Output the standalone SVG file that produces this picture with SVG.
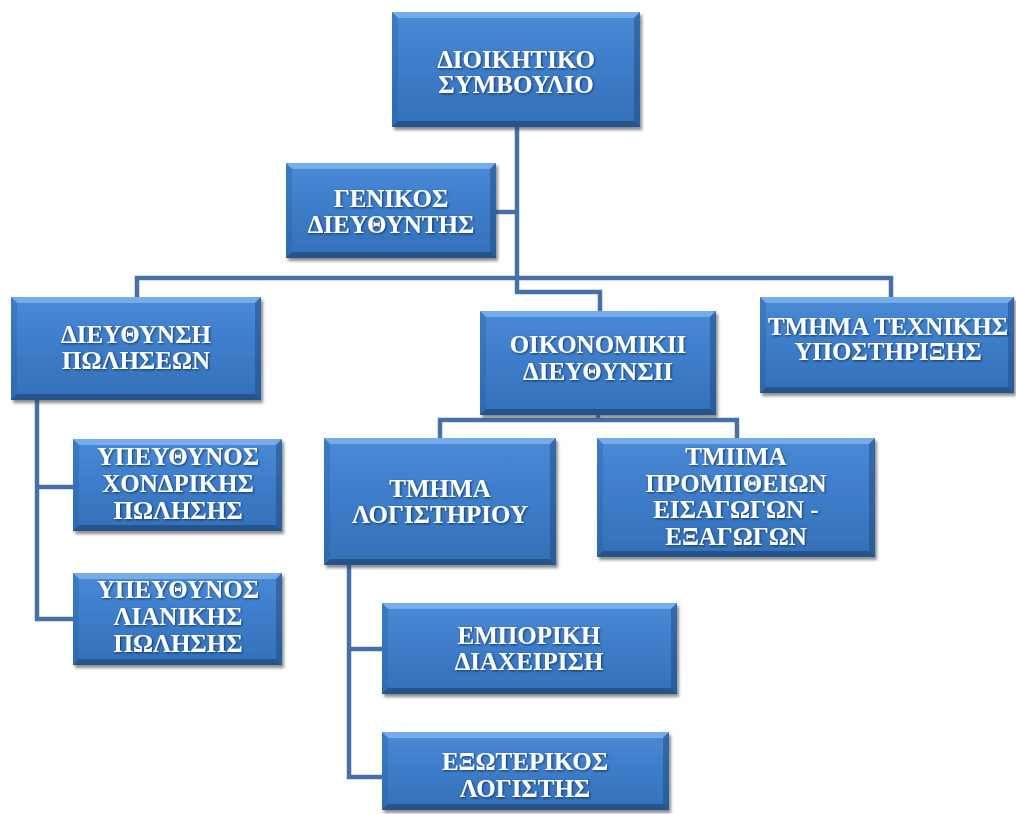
<svg xmlns="http://www.w3.org/2000/svg" width="1016" height="814" viewBox="0 0 1016 814">
  <defs>
    <linearGradient id="fillGrad" x1="0" y1="0" x2="0" y2="1">
      <stop offset="0" stop-color="#4a8ad6"/>
      <stop offset="0.5" stop-color="#3d7cc8"/>
      <stop offset="1" stop-color="#3470b8"/>
    </linearGradient>
    <filter id="boxShadow" x="-10%" y="-10%" width="130%" height="140%">
      <feGaussianBlur in="SourceAlpha" stdDeviation="1.6"/>
      <feOffset dx="2" dy="3" result="b"/>
      <feFlood flood-color="#404040" flood-opacity="0.6"/>
      <feComposite in2="b" operator="in" result="s"/>
      <feMerge><feMergeNode in="s"/><feMergeNode in="SourceGraphic"/></feMerge>
    </filter>
    <filter id="textShadow" x="-10%" y="-20%" width="120%" height="150%">
      <feGaussianBlur in="SourceAlpha" stdDeviation="1"/>
      <feOffset dx="1" dy="1.2" result="b"/>
      <feFlood flood-color="#0d2747" flood-opacity="0.8"/>
      <feComposite in2="b" operator="in" result="s"/>
      <feMerge><feMergeNode in="s"/><feMergeNode in="SourceGraphic"/></feMerge>
    </filter>
  </defs>
  <style>
    .box { fill: url(#fillGrad); }
    .bt { fill: #9cc8fb; fill-opacity: 0.55; }
    .bl { fill: #2c5e9e; fill-opacity: 0.35; }
    .br { fill: #1f4a80; fill-opacity: 0.5; }
    .bb { fill: #1d4373; fill-opacity: 0.65; }
    .node { filter: url(#boxShadow); }
    .lbl { font-family: "Liberation Serif", "DejaVu Serif", serif; font-weight: bold; font-size: 25px; fill: #ffffff; text-anchor: middle; filter: url(#textShadow); }
    .conn { fill: none; stroke: #4870a6; stroke-width: 4.5; stroke-linejoin: miter; }
  </style>
  <rect width="1016" height="814" fill="#ffffff"/>

  <g id="connectors">
    <path class="conn" d="M517,127 V292 H600 V311"/>
    <path class="conn" d="M496,212 H517"/>
    <path class="conn" d="M137,297 V278 H891 V297"/>
    <path class="conn" d="M37,400 V619 H73"/>
    <path class="conn" d="M37,487 H73"/>
    <path class="conn" d="M598,415 V420"/>
    <path class="conn" d="M440,438 V420 H737 V438"/>
    <path class="conn" d="M349,565 V777 H382"/>
    <path class="conn" d="M349,649 H382"/>
  </g>

  <g id="n-dioikitiko" class="node">
    <rect class="box" x="392" y="12" width="248" height="115"/>
    <polygon class="bt" points="392,12 640,12 634,18 398,18"/>
    <polygon class="bl" points="392,12 398,18 398,121 392,127"/>
    <polygon class="br" points="640,12 640,127 634,121 634,18"/>
    <polygon class="bb" points="392,127 398,121 634,121 640,127"/>
    <text class="lbl" x="516" y="68">ΔΙΟΙΚΗΤΙΚΟ</text>
    <text class="lbl" x="516" y="93">ΣΥΜΒΟΥΛΙΟ</text>
  </g>

  <g id="n-genikos" class="node">
    <rect class="box" x="286" y="163" width="210" height="95"/>
    <polygon class="bt" points="286,163 496,163 490,169 292,169"/>
    <polygon class="bl" points="286,163 292,169 292,252 286,258"/>
    <polygon class="br" points="496,163 496,258 490,252 490,169"/>
    <polygon class="bb" points="286,258 292,252 490,252 496,258"/>
    <text class="lbl" x="391" y="207">ΓΕΝΙΚΟΣ</text>
    <text class="lbl" x="391" y="233">ΔΙΕΥΘΥΝΤΗΣ</text>
  </g>

  <g id="n-polhseon" class="node">
    <rect class="box" x="11" y="297" width="250" height="103"/>
    <polygon class="bt" points="11,297 261,297 255,303 17,303"/>
    <polygon class="bl" points="11,297 17,303 17,394 11,400"/>
    <polygon class="br" points="261,297 261,400 255,394 255,303"/>
    <polygon class="bb" points="11,400 17,394 255,394 261,400"/>
    <text class="lbl" x="136" y="343">ΔΙΕΥΘΥΝΣΗ</text>
    <text class="lbl" x="136" y="369">ΠΩΛΗΣΕΩΝ</text>
  </g>

  <g id="n-oikonomiki" class="node">
    <rect class="box" x="480" y="311" width="236" height="104"/>
    <polygon class="bt" points="480,311 716,311 710,317 486,317"/>
    <polygon class="bl" points="480,311 486,317 486,409 480,415"/>
    <polygon class="br" points="716,311 716,415 710,409 710,317"/>
    <polygon class="bb" points="480,415 486,409 710,409 716,415"/>
    <text class="lbl" x="598" y="353">ΟΙΚΟΝΟΜΙΚΙΙ</text>
    <text class="lbl" x="598" y="380">ΔΙΕΥΘΥΝΣΙΙ</text>
  </g>

  <g id="n-texnikis" class="node">
    <rect class="box" x="760" y="297" width="254" height="96"/>
    <polygon class="bt" points="760,297 1014,297 1008,303 766,303"/>
    <polygon class="bl" points="760,297 766,303 766,387 760,393"/>
    <polygon class="br" points="1014,297 1014,393 1008,387 1008,303"/>
    <polygon class="bb" points="760,393 766,387 1008,387 1014,393"/>
    <text class="lbl" x="888" y="335">ΤΜΗΜΑ ΤΕΧΝΙΚΗΣ</text>
    <text class="lbl" x="888" y="360">ΥΠΟΣΤΗΡΙΞΗΣ</text>
  </g>

  <g id="n-xondrikis" class="node">
    <rect class="box" x="73" y="439" width="209" height="92"/>
    <polygon class="bt" points="73,439 282,439 276,445 79,445"/>
    <polygon class="bl" points="73,439 79,445 79,525 73,531"/>
    <polygon class="br" points="282,439 282,531 276,525 276,445"/>
    <polygon class="bb" points="73,531 79,525 276,525 282,531"/>
    <text class="lbl" x="178" y="465">ΥΠΕΥΘΥΝΟΣ</text>
    <text class="lbl" x="178" y="492">ΧΟΝΔΡΙΚΗΣ</text>
    <text class="lbl" x="178" y="519">ΠΩΛΗΣΗΣ</text>
  </g>

  <g id="n-lianikis" class="node">
    <rect class="box" x="73" y="573" width="209" height="92"/>
    <polygon class="bt" points="73,573 282,573 276,579 79,579"/>
    <polygon class="bl" points="73,573 79,579 79,659 73,665"/>
    <polygon class="br" points="282,573 282,665 276,659 276,579"/>
    <polygon class="bb" points="73,665 79,659 276,659 282,665"/>
    <text class="lbl" x="178" y="598">ΥΠΕΥΘΥΝΟΣ</text>
    <text class="lbl" x="178" y="625">ΛΙΑΝΙΚΗΣ</text>
    <text class="lbl" x="178" y="652">ΠΩΛΗΣΗΣ</text>
  </g>

  <g id="n-logistiriou" class="node">
    <rect class="box" x="324" y="438" width="232" height="127"/>
    <polygon class="bt" points="324,438 556,438 550,444 330,444"/>
    <polygon class="bl" points="324,438 330,444 330,559 324,565"/>
    <polygon class="br" points="556,438 556,565 550,559 550,444"/>
    <polygon class="bb" points="324,565 330,559 550,559 556,565"/>
    <text class="lbl" x="440" y="497">ΤΜΗΜΑ</text>
    <text class="lbl" x="440" y="523">ΛΟΓΙΣΤΗΡΙΟΥ</text>
  </g>

  <g id="n-promitheion" class="node">
    <rect class="box" x="597" y="438" width="278" height="119"/>
    <polygon class="bt" points="597,438 875,438 869,444 603,444"/>
    <polygon class="bl" points="597,438 603,444 603,551 597,557"/>
    <polygon class="br" points="875,438 875,557 869,551 869,444"/>
    <polygon class="bb" points="597,557 603,551 869,551 875,557"/>
    <text class="lbl" x="736" y="465">ΤΜΙΙΜΑ</text>
    <text class="lbl" x="736" y="492">ΠΡΟΜΙΙΘΕΙΩΝ</text>
    <text class="lbl" x="736" y="518">ΕΙΣΑΓΩΓΩΝ -</text>
    <text class="lbl" x="736" y="545">ΕΞΑΓΩΓΩΝ</text>
  </g>

  <g id="n-emporiki" class="node">
    <rect class="box" x="382" y="603" width="295" height="91"/>
    <polygon class="bt" points="382,603 677,603 671,609 388,609"/>
    <polygon class="bl" points="382,603 388,609 388,688 382,694"/>
    <polygon class="br" points="677,603 677,694 671,688 671,609"/>
    <polygon class="bb" points="382,694 388,688 671,688 677,694"/>
    <text class="lbl" x="529" y="644">ΕΜΠΟΡΙΚΗ</text>
    <text class="lbl" x="529" y="670">ΔΙΑΧΕΙΡΙΣΗ</text>
  </g>

  <g id="n-exoterikos" class="node">
    <rect class="box" x="382" y="732" width="287" height="78"/>
    <polygon class="bt" points="382,732 669,732 663,738 388,738"/>
    <polygon class="bl" points="382,732 388,738 388,804 382,810"/>
    <polygon class="br" points="669,732 669,810 663,804 663,738"/>
    <polygon class="bb" points="382,810 388,804 663,804 669,810"/>
    <text class="lbl" x="525" y="770">ΕΞΩΤΕΡΙΚΟΣ</text>
    <text class="lbl" x="525" y="797">ΛΟΓΙΣΤΗΣ</text>
  </g>
</svg>
